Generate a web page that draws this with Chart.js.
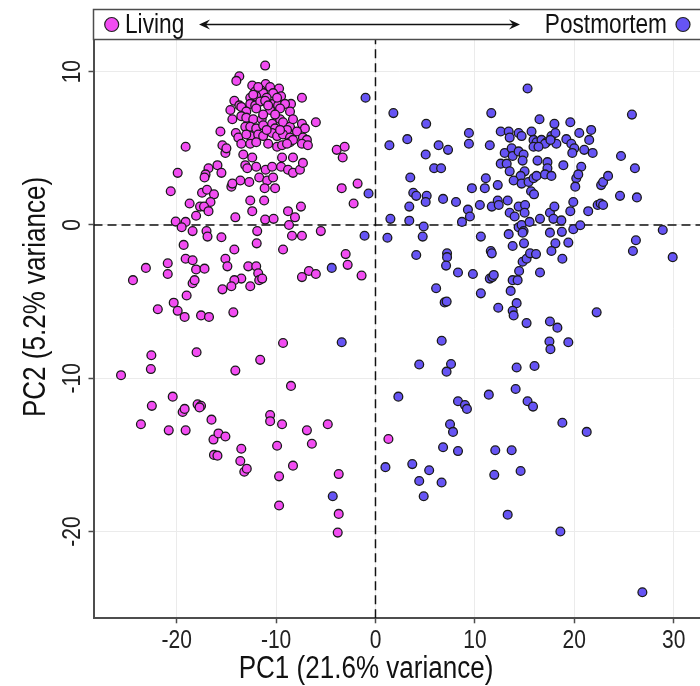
<!DOCTYPE html>
<html><head><meta charset="utf-8">
<script src="https://cdn.jsdelivr.net/npm/chart.js@4"></script>
<style>html,body{margin:0;padding:0;background:#fff;overflow:hidden;width:700px;height:686px}canvas{display:block}</style>
</head><body>
<canvas id="c" width="712" height="686"></canvas>
<script>
const categories = ['Living', 'Postmortem'];
const livingX = [-11.1,-13.7,-14.0,-12.4,-11.05,-10.6,-9.7,-14.2,-7.4,-8.5,-6.0,-15.6,-19.1,-14.6,-14.4,-13.7,-15.4,-15.1,-15.0,-13.3,-12.4,-9.4,-8.3,-3.9,-3.1,-3.3,-16.8,-15.9,-15.5,-17.1,-17.2,-19.9,-20.6,-13.1,-12.9,-12.0,-11.05,-10.4,-9.5,-8.8,-8.3,-7.6,-7.3,-13.6,-14.5,-14.4,-12.7,-11.7,-10.9,-10.3,-11.15,-10.1,-3.4,-1.8,-2.2,-17.45,-16.95,-16.25,-16.6,-18.7,-17.65,-17.25,-16.8,-18.05,-12.6,-11.2,-12.4,-14.1,-11.1,-10.25,-8.8,-7.5,-8.1,
-12.1,-11.55,-11.3,-10.3,-9.5,-12.6,-12.0,-10.95,-12.6,-12.1,-11.6,-11.1,-10.3,-9.8,-9.1,-13.5,-13.0,-12.0,-10.6,-9.6,-13.5,-13.0,-12.3,-11.45,-10.4,-9.6,-9.3,-7.4,-7.1,-8.6,-13.1,-12.6,-12.0,-11.3,-10.1,-8.9,-7.9,-14.05,-13.8,-12.6,-11.8,-11.3,-10.4,-9.9,-9.3,-8.6,-7.3,-6.9,-13.5,-12.6,-12.0,-10.8,-9.9,-9.4,-8.6,-8.3,-7.4,-6.8,-11.8,-9.9,-12.3,-10.8,-8.6,-11.3,-10.1,-8.3,-10.95,-9.6,-13.0,-8.9,
-20.1,-19.1,-19.5,-18.4,-17.0,-16.9,-15.5,-11.9,-8.7,-8.4,-7.4,-5.5,-19.3,-11.95,-14.2,-9.3,-23.1,-20.9,-20.9,-24.4,-19.1,-18.4,-18.05,-17.2,-15.1,-14.9,-12.8,-12.0,-11.8,-11.7,-11.4,-12.6,-13.5,-14.2,-14.5,-15.4,-18.4,-18.2,-19.0,-20.3,-19.9,-21.9,-19.2,-17.55,-16.75,-14.3,-7.4,-6.7,-6.0,-3.0,-2.8,-1.4,-9.3,-18.0,-22.55,-22.6,-25.6,-14.1,-11.6,-8.5,-20.4,
-22.5,-19.4,-19.2,-17.9,-17.55,-17.7,-23.6,-20.8,-19.1,-16.5,-16.3,-15.8,-15.1,-16.25,-15.9,-13.5,-13.6,-13.2,-12.95,-10.6,-10.6,-9.4,-9.9,-6.9,-6.4,-4.8,-8.3,-9.7,-9.7,-3.7,-3.7,-3.8,1.3];
const livingY = [10.4,9.7,9.4,9.1,9.2,9.0,8.9,8.1,8.3,7.9,6.7,6.1,5.1,7.5,6.9,7.8,5.2,4.7,5.0,4.6,4.4,4.4,4.4,4.9,5.1,4.4,3.7,3.9,3.4,3.3,3.1,3.4,2.2,3.9,3.7,3.8,3.6,3.8,3.8,3.6,3.4,3.6,4.05,2.9,2.5,2.7,2.8,3.1,2.9,3.1,2.4,2.4,2.4,2.7,1.4,2.1,2.3,2.0,1.5,1.4,1.2,1.2,0.9,0.6,1.6,1.6,0.9,0.5,0.35,0.4,0.9,1.2,0.5,
8.7,8.8,8.6,8.6,8.4,8.3,8.4,8.3,7.9,7.8,8.05,8.1,7.9,7.8,7.9,7.7,7.4,7.6,7.5,7.6,7.1,7.0,6.9,6.9,6.6,6.9,6.7,6.6,6.3,6.4,6.4,6.4,6.3,6.5,6.3,6.2,6.1,6.0,5.7,5.8,5.9,5.8,6.0,5.8,5.9,5.7,5.7,5.55,5.3,5.3,5.4,5.3,5.1,5.2,5.4,5.55,5.3,5.2,9.0,8.3,8.5,7.8,7.4,7.2,7.2,6.9,6.2,6.2,5.9,5.3,
0.22,0.2,-0.15,-0.4,-0.4,-0.76,-0.8,-0.4,0.0,-0.7,-0.7,-0.4,-1.3,-1.2,-1.6,-1.6,-2.8,-2.5,-3.2,-3.6,-2.2,-2.3,-2.9,-2.85,-2.2,-2.7,-2.7,-2.7,-3.15,-3.6,-3.5,-4.0,-3.5,-3.6,-4.0,-4.2,-3.8,-3.6,-4.6,-5.07,-5.6,-5.5,-6.0,-5.9,-6.0,-5.7,-3.4,-3.0,-3.2,-1.9,-2.6,-3.3,-7.7,-8.3,-8.5,-9.4,-9.8,-9.5,-8.8,-10.5,-11.2,
-11.8,-12.2,-12.0,-11.7,-11.8,-11.9,-13.0,-13.4,-13.4,-12.7,-14.0,-13.6,-13.8,-15.0,-15.05,-14.6,-15.4,-16.1,-15.9,-12.4,-12.8,-13.0,-14.4,-13.4,-14.27,-13.0,-15.7,-16.4,-18.3,-16.25,-18.85,-20.07,-13.96];
const postX = [-1.0,-0.7,-1.1,-4.4,-3.4,-4.3,
15.3,1.8,5.1,11.65,16.5,18.0,19.6,25.8,1.4,3.2,5.05,6.35,7.3,9.4,9.4,11.5,12.6,13.4,13.5,14.4,14.7,15.7,15.9,16.2,16.7,17.2,17.7,18.1,15.9,17.05,18.2,19.2,20.5,21.7,21.5,19.7,20.0,19.8,21.0,21.85,13.0,13.7,13.8,14.4,14.9,14.8,16.3,17.3,17.3,18.9,20.7,24.7,26.1,5.9,6.6,3.5,3.8,4.1,5.15,5.05,6.8,8.1,3.4,9.7,11.1,11.0,12.3,12.6,13.2,13.5,15.0,14.6,13.9,14.7,15.4,15.9,16.2,17.05,17.7,15.65,15.95,20.2,20.4,20.1,22.7,22.9,23.4,24.6,26.3,19.9,22.35,22.65,22.9,21.4,19.6,10.5,11.7,12.3,12.4,13.3,14.4,15.05,13.5,14.0,15.0,16.55,17.55,18.0,17.9,18.7,9.3,9.5,1.5,16.4,17.6,
3.4,4.85,8.7,1.2,4.75,10.6,13.4,14.4,14.7,14.9,14.8,15.5,17.55,18.75,19.9,20.6,28.9,13.8,14.94,18.1,19.4,26.2,25.9,29.9,4.1,7.2,7.2,7.1,8.3,9.8,11.6,11.7,11.5,11.75,11.9,14.8,15.2,15.55,16.15,14.45,16.55,17.7,18.8,13.8,14.3,13.6,14.2,13.8,13.9,12.35,10.6,6.1,6.96,7.16,15.2,17.55,18.3,17.5,17.6,19.4,22.25,6.66,4.4,7.6,7.15,14.2,16.0,14.1,11.4,2.3,
8.3,9.0,9.2,15.3,15.85,7.5,7.8,6.8,8.3,3.7,1.0,5.4,4.4,6.65,4.85,12.05,13.7,11.95,14.6,13.3,18.8,21.25,18.6,26.85];
const postY = [8.3,2.05,-0.7,-2.8,-7.65,-17.7,
8.9,7.3,6.6,7.3,6.9,6.6,6.7,7.2,5.2,5.6,4.6,5.2,4.9,6.0,5.3,5.2,6.1,6.1,5.7,6.0,5.8,6.1,5.55,5.4,5.55,5.4,5.8,6.0,5.1,5.3,5.3,5.6,6.0,6.2,5.55,5.3,5.0,4.7,4.9,4.7,4.7,5.0,4.5,4.8,4.6,4.2,4.2,4.1,3.7,3.9,3.8,4.5,3.7,3.7,3.7,3.1,2.1,1.9,1.9,1.5,1.7,1.5,1.2,2.4,3.05,2.4,2.6,4.0,4.0,3.5,3.5,3.2,2.9,2.7,2.8,3.05,3.2,3.3,3.2,2.2,2.0,3.05,3.3,2.5,2.6,2.8,3.2,1.9,1.8,1.5,1.3,1.4,1.3,0.9,0.9,1.3,1.2,1.6,1.3,1.6,1.2,1.3,0.8,0.55,0.8,0.4,0.8,1.2,0.4,0.3,1.0,0.55,0.4,5.1,5.55,
0.28,-0.1,0.2,-0.83,-0.76,-0.76,-0.6,-0.15,0.0,-0.4,-0.5,0.2,-0.5,-0.45,-0.28,-0.02,-0.33,-1.37,-1.2,-1.2,-1.15,-1.0,-1.7,-2.1,-1.96,-1.85,-2.1,-2.65,-3.1,-3.2,-1.7,-1.85,-3.5,-3.4,-3.26,-2.4,-2.2,-1.85,-1.9,-3.0,-3.1,-1.7,-2.2,-3.6,-3.6,-4.3,-5.1,-5.6,-5.9,-5.4,-4.46,-4.13,-5.05,-5.0,-6.4,-6.3,-6.7,-7.6,-8.1,-7.65,-5.7,-7.55,-9.1,-9.07,-9.57,-9.3,-9.2,-10.7,-11.07,-11.2,
-11.5,-11.75,-12.0,-11.5,-11.85,-13.0,-13.5,-14.5,-14.75,-15.6,-15.8,-16.0,-16.7,-16.8,-17.7,-14.7,-14.7,-16.3,-16.05,-18.9,-12.9,-13.5,-20.0,-23.96];
const xTicks = [-20, -10, 0, 10, 20, 30];
const yTicks = [-20, -10, 0, 10];
const xTitle = 'PC1 (21.6% variance)';
const yTitle = 'PC2 (5.2% variance)';
const xRange = [-28.37, 33.0];
const yRange = [-25.66, 12.1];
const refX = 0, refY = 0;
const seriesColors = ['#F24CF2', '#6654F4'];

const FONT = '"Liberation Sans",Arial,sans-serif';
const NARROW = 0.84;
const toPts = (xs, ys) => xs.map((x, i) => ({x: x, y: ys[i]}));

function txt(ctx, s, x, y, size, align, rot, color) {
  ctx.save();
  ctx.translate(x, y);
  if (rot) ctx.rotate(rot);
  ctx.scale(NARROW, 1);
  ctx.font = size + 'px ' + FONT;
  ctx.fillStyle = color;
  ctx.textAlign = align;
  ctx.textBaseline = 'middle';
  ctx.fillText(s, 0, 0);
  ctx.restore();
}

const decor = {
  id: 'decor',
  afterDraw(chart) {
    const ctx = chart.ctx, a = chart.chartArea;
    const W = chart.width;
    ctx.save();
    const top = 9.5, bot = a.top, mid = (top + bot) / 2;
    ctx.fillStyle = '#fff';
    ctx.fillRect(a.left, top, W, bot - top);
    ctx.strokeStyle = '#4d4d4d'; ctx.lineWidth = 1.5;
    ctx.strokeRect(a.left, top, W, bot - top);
    const dot = (x, c) => { ctx.beginPath(); ctx.arc(x, mid, 7, 0, Math.PI * 2); ctx.fillStyle = c; ctx.fill(); ctx.lineWidth = 1.2; ctx.strokeStyle = '#222'; ctx.stroke(); };
    dot(111.7, seriesColors[0]);
    dot(683, seriesColors[1]);
    txt(ctx, categories[0], 125, mid + 1, 27, 'left', 0, '#111');
    txt(ctx, categories[1], 667, mid + 1, 27, 'right', 0, '#111');
    const x1 = 199, x2 = 520;
    ctx.strokeStyle = '#111'; ctx.lineWidth = 1.3;
    ctx.beginPath(); ctx.moveTo(x1 + 4, mid); ctx.lineTo(x2 - 4, mid); ctx.stroke();
    const head = (tx, dir) => {
      ctx.beginPath();
      ctx.moveTo(tx, mid);
      ctx.lineTo(tx - dir * 11, mid - 5);
      ctx.lineTo(tx - dir * 7, mid);
      ctx.lineTo(tx - dir * 11, mid + 5);
      ctx.closePath(); ctx.fillStyle = '#111'; ctx.fill();
    };
    head(x1, -1); head(x2, 1);
    const ys = chart.scales.y, xs = chart.scales.x;
    yTicks.forEach(v => txt(ctx, String(v), 73, ys.getPixelForValue(v), 25, 'center', -Math.PI / 2, '#222'));
    xTicks.forEach(v => txt(ctx, String(v), xs.getPixelForValue(v), 641, 25, 'center', 0, '#222'));
    txt(ctx, yTitle, 36, 297, 31, 'center', -Math.PI / 2, '#111');
    txt(ctx, xTitle, 366, 669, 31, 'center', 0, '#111');
    ctx.restore();
  }
};

new Chart(document.getElementById('c'), {
  type: 'scatter',
  data: {
    datasets: [
      {label: categories[1], data: toPts(postX, postY), backgroundColor: seriesColors[1], borderColor: '#1a1a1a', borderWidth: 1.3, pointRadius: 4.4, order: 1},
      {label: categories[0], data: toPts(livingX, livingY), backgroundColor: seriesColors[0], borderColor: '#1a1a1a', borderWidth: 1.3, pointRadius: 4.4, order: 2},
      {type: 'line', label: 'zx', data: [{x: refX, y: yRange[0]}, {x: refX, y: yRange[1]}], borderColor: '#111', borderWidth: 1.5, borderDash: [9, 5], pointRadius: 0, order: 3},
      {type: 'line', label: 'zy', data: [{x: xRange[0], y: refY}, {x: xRange[1], y: refY}], borderColor: '#111', borderWidth: 1.5, borderDash: [9, 5], pointRadius: 0, order: 3}
    ]
  },
  options: {
    responsive: false,
    animation: false,
    devicePixelRatio: 1,
    layout: {padding: {top: 39.5, right: 8.5, left: 0, bottom: 0}},
    plugins: {legend: {display: false}, tooltip: {enabled: false}},
    scales: {
      x: {
        type: 'linear', min: xRange[0], max: xRange[1],
        afterBuildTicks: s => { s.ticks = xTicks.map(v => ({value: v})); },
        afterFit: s => { s.height = 686 - 618.3; },
        grid: {color: '#ebebeb', lineWidth: 1, drawTicks: true, tickLength: 5, tickColor: '#4d4d4d', tickWidth: 1.5},
        border: {display: true, color: '#4d4d4d', width: 2},
        ticks: {display: false}
      },
      y: {
        type: 'linear', min: yRange[0], max: yRange[1],
        afterBuildTicks: s => { s.ticks = yTicks.map(v => ({value: v})); },
        afterFit: s => { s.width = 93.5; },
        grid: {color: '#ebebeb', lineWidth: 1, drawTicks: true, tickLength: 5, tickColor: '#4d4d4d', tickWidth: 1.5},
        border: {display: true, color: '#4d4d4d', width: 2},
        ticks: {display: false}
      }
    }
  },
  plugins: [decor]
});
</script>
</body></html>
